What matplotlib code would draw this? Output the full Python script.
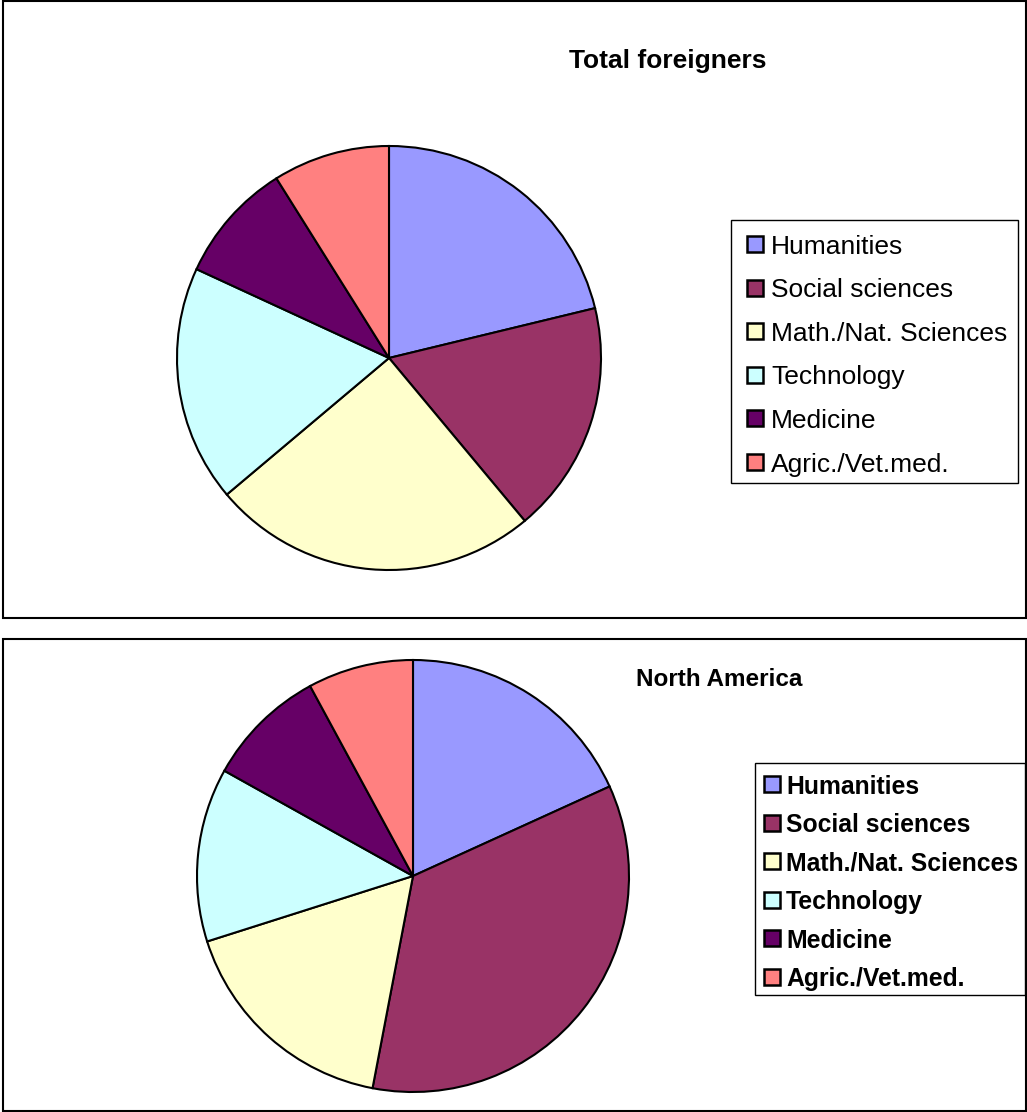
import matplotlib
matplotlib.use("Agg")
import matplotlib.pyplot as plt
from matplotlib.patches import Rectangle

plt.rcParams['font.family'] = ['Liberation Sans', 'DejaVu Sans']

# ================================================================
# Data (share of students by field, %)
# ================================================================
fields = ["Humanities", "Social sciences", "Math./Nat. Sciences",
          "Technology", "Medicine", "Agric./Vet.med."]
total_foreigners = [21.2, 17.7, 24.9, 18.0, 9.2, 8.9]
north_america = [18.2, 34.8, 17.1, 13.0, 9.0, 7.9]
colors = ["#9999FF", "#993366", "#FFFFCC", "#CCFFFF", "#660066", "#FF8080"]

W, H = 1027, 1112
fig = plt.figure(figsize=(W / 100, H / 100), dpi=100)


def fx(x):
    return x / W


def fy(y):
    return 1 - y / H


def box(x0, y0, x1, y1, lw=1.5, fc="none"):
    fig.add_artist(Rectangle((fx(x0), fy(y1)), (x1 - x0) / W, (y1 - y0) / H,
                             transform=fig.transFigure, facecolor=fc,
                             edgecolor="black", lw=lw))


def legend(frame_xy, sq_x, text_x, y_first, step, sq, fsize, weight):
    box(*frame_xy, lw=1.0, fc="white")
    for i, (name, c) in enumerate(zip(fields, colors)):
        yc = y_first + i * step
        box(sq_x, yc - sq / 2, sq_x + sq, yc + sq / 2, lw=1.8, fc=c)
        fig.text(fx(text_x), fy(yc), name, ha="left", va="center_baseline",
                 fontsize=fsize, fontweight=weight)


def pie_panel(values, cx, cy, r, title, tpos, tsize):
    ax = fig.add_axes([fx(cx - r), fy(cy + r), 2 * r / W, 2 * r / H])
    ax.pie(values, colors=colors, startangle=90, counterclock=False,
           wedgeprops=dict(edgecolor="black", linewidth=1.5))
    ax.set_xlim(-1, 1)
    ax.set_ylim(-1, 1)
    ax.set_aspect("equal")
    ax.axis("off")
    for w in ax.patches:
        w.set_clip_on(False)
    fig.text(fx(tpos[0]), fy(tpos[1]), title, ha="center", va="center",
             fontsize=tsize, fontweight="bold")


box(3, 1, 1026, 618)
box(3, 639, 1026, 1111)

pie_panel(total_foreigners, 389, 358, 212, "Total foreigners", (668, 61), 19)
pie_panel(north_america, 413, 876, 216, "North America", (719, 680), 17.5)

legend((731, 220, 1018, 483), 747, 771, 244, 43.6, 16, 19, "normal")
legend((755, 763, 1025, 995), 764, 786, 784, 38.5, 16, 17.8, "bold")

fig.savefig("out.png", dpi=100)
